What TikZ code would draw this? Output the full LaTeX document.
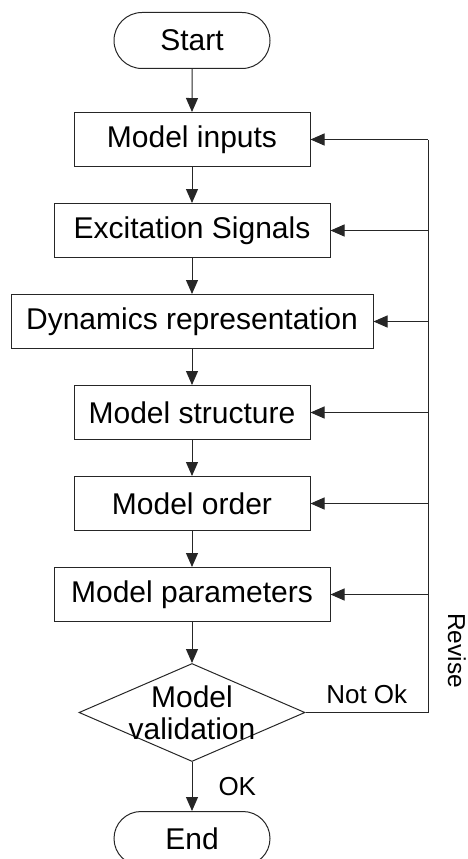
\documentclass[tikz,border=0pt]{standalone}
\usepackage{fontspec}
\setmainfont{Liberation Sans}
\usepackage{tikz}
\tikzset{
  chart_font/.style = {font=\fontsize{30}{32}\selectfont},
  note_font/.style = {font=\fontsize{26}{30}\selectfont},
  chart_line/.style = {draw=black!85, line width=1pt}
}
\tikzset{
  terminal/.style = {chart_font, chart_line, rounded rectangle, minimum width=156pt, minimum height=56pt, inner sep=0},
  step_box/.style = {chart_font, chart_line, rectangle, minimum height=54pt, inner sep=0},
  decision/.style = {chart_line, diamond, minimum width=226pt, minimum height=98pt, inner sep=0},
  flow/.style = {chart_line, -{Triangle[length=14pt, width=12pt]}},
  note/.style = {note_font, inner sep=0}
}
\usetikzlibrary{shapes, arrows.meta, positioning, calc}

\begin{document}
\begin{tikzpicture}[node distance=36pt]
        \useasboundingbox (0,0) rectangle (468pt,-859pt);

        % Steps
        \node[terminal] at (192pt,-40.5pt) (start) {Start};
        \node[step_box, minimum width=236pt, below=43pt of start] (inputs) {Model inputs};
        \node[step_box, minimum width=276pt, below=of inputs] (signals) {Excitation Signals};
        \node[step_box, minimum width=362pt, below=of signals] (dynamics) {Dynamics representation};
        \node[step_box, minimum width=236pt, below=of dynamics] (structure) {Model structure};
        \node[step_box, minimum width=236pt, below=of structure] (order) {Model order};
        \node[step_box, minimum width=276pt, below=of order] (params) {Model parameters};
        \node[decision, below=41pt of params,
              label={[chart_font, align=center]center:Model\\validation}] (valid) {};
        \node[terminal, minimum height=54pt, below=49pt of valid] (end) {End};

        % Revise rail
        \coordinate (rail) at (428pt,0);

        % Arrows and lines
        \draw[flow] (start) -- (inputs);
        \draw[flow] (inputs) -- (signals);
        \draw[flow] (signals) -- (dynamics);
        \draw[flow] (dynamics) -- (structure);
        \draw[flow] (structure) -- (order);
        \draw[flow] (order) -- (params);
        \draw[flow] (params) -- (valid);
        \draw[flow] (valid) -- node[note, right=26pt] (ok) {OK} (end);

        \draw[chart_line] (valid.east) -- node[note, above=8pt] (not_ok) {Not Ok} (valid.east -| rail)
            -- (inputs.east -| rail);
        \foreach \n in {inputs, signals, dynamics, structure, order, params}{
            \draw[flow] (\n.east -| rail) -- (\n.east);
        }
        \node[note, font=\fontsize{24.5}{28}\selectfont, rotate=-90]
            at ([xshift=29pt, yshift=62pt]valid.east -| rail) (revise) {Revise};
\end{tikzpicture}
\end{document}
